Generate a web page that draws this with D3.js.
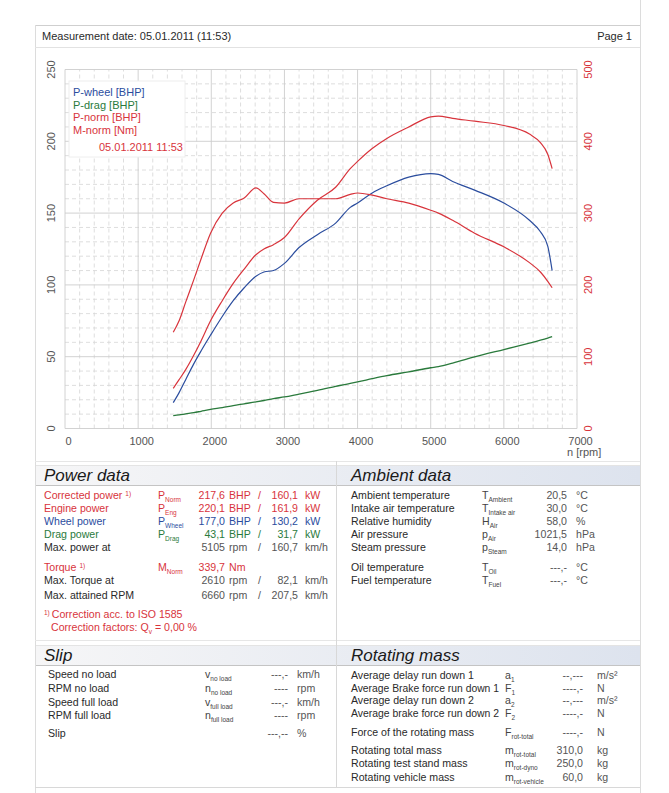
<!DOCTYPE html>
<html><head><meta charset="utf-8">
<script src="https://cdn.jsdelivr.net/npm/d3@7"></script>
<style>
html,body{margin:0;padding:0;background:#fff;}
svg{display:block;font-family:"Liberation Sans",Arial,sans-serif;}
</style></head>
<body><svg id="c" width="669" height="793"></svg>
<script>
// ---- data ----
const rpm    = [1480,1560,1650,1760,1860,1990,2150,2300,2450,2610,2720,2850,3000,3200,3450,3700,3900,4000,4200,4400,4700,5000,5105,5300,5600,6000,6350,6500,6600,6660];
const pWheel = [18,25,34,45,54,65,78,89,98,106,109,110,115,126,135,143,154,157,164,169,175,177.5,177,172,166,157,145,137,127,110];
const pDrag  = [9,9.5,10.2,11,12,13.3,14.6,16,17.2,18.5,19.5,20.8,22,24,26.5,29.3,31.5,32.5,34.7,36.8,39.5,42.3,43.1,45.5,49.8,55,59.5,61.5,63,64];
const pNorm  = [28,34,41,51,61,75,89,101,111,121,125,128,133,146,159,168,181,186,195,202,210,217,217.6,216,214,211,205,199,191,181];
const mNorm  = [134,150,176,207,236,272,300,314,321,335,327,315,314,320,320,320,326,328,325,320,314,304,300,290,272,253,231,218,205,196];
const xTicks = [0,1000,2000,3000,4000,5000,6000,7000];
const leftTicks = [0,50,100,150,200,250];
const rightTicks = [0,100,200,300,400,500];
const legendItems = ["P-wheel [BHP]","P-drag [BHP]","P-norm [BHP]","M-norm [Nm]"];

const BLUE="#2b4d9e", GREEN="#2a7a3c", RED="#d8343c", TXT="#2a2a2a", AX="#555";
const FS=10.6;
const svg = d3.select("#c");
const defs = svg.append("defs");
const grad = defs.append("linearGradient").attr("id","band");
grad.append("stop").attr("offset","0%").attr("stop-color","#f6f6f7");
grad.append("stop").attr("offset","100%").attr("stop-color","#dde3ee");

// ---- page frame ----
const LN="#cfcfcf";
svg.append("line").attr("x1",35).attr("x2",640).attr("y1",25.5).attr("y2",25.5).attr("stroke",LN);
svg.append("line").attr("x1",640.5).attr("x2",640.5).attr("y1",0).attr("y2",793).attr("stroke","#dcdcdc");
svg.append("line").attr("x1",35.5).attr("x2",35.5).attr("y1",25).attr("y2",793).attr("stroke","#dcdcdc");
svg.append("line").attr("x1",35).attr("x2",640).attr("y1",47.5).attr("y2",47.5).attr("stroke","#e2e2e2");
svg.append("text").attr("x",42).attr("y",40).attr("font-size",11).attr("fill",TXT).text("Measurement date: 05.01.2011 (11:53)");
svg.append("text").attr("x",632).attr("y",40).attr("font-size",11).attr("fill",TXT).attr("text-anchor","end").text("Page 1");

// ---- chart ----
const x = d3.scaleLinear().domain([0,7000]).range([65,577]);
const yL = d3.scaleLinear().domain([0,250]).range([428.5,69.5]);
const yR = d3.scaleLinear().domain([0,500]).range([428.5,69.5]);
const g = svg.append("g");
d3.range(0,7001,200).filter(v=>v%1000!==0).forEach(v=>{
  g.append("line").attr("x1",x(v)).attr("x2",x(v)).attr("y1",yL(0)).attr("y2",yL(250))
   .attr("stroke","#d6d6d6").attr("stroke-dasharray","4,3").attr("stroke-width",0.8);
});
d3.range(0,251,10).filter(v=>v%50!==0).forEach(v=>{
  g.append("line").attr("x1",x(0)).attr("x2",x(7000)).attr("y1",yL(v)).attr("y2",yL(v))
   .attr("stroke","#d6d6d6").attr("stroke-dasharray","4,3").attr("stroke-width",0.8);
});
xTicks.forEach(v=>g.append("line").attr("x1",x(v)).attr("x2",x(v)).attr("y1",yL(0)).attr("y2",yL(250)).attr("stroke","#cdcdcd").attr("stroke-width",0.9));
leftTicks.forEach(v=>g.append("line").attr("x1",x(0)).attr("x2",x(7000)).attr("y1",yL(v)).attr("y2",yL(v)).attr("stroke","#cdcdcd").attr("stroke-width",0.9));

const xAxis = svg.append("g").attr("transform","translate(3,"+(yL(0)+4)+")")
  .call(d3.axisBottom(x).tickValues(xTicks).tickSize(0).tickFormat(d3.format("d")));
xAxis.select(".domain").remove();
xAxis.selectAll("text").attr("font-size",11).attr("fill",AX).attr("font-family","Liberation Sans, Arial").attr("dy","0.9em");
svg.append("text").attr("x",567).attr("y",456).attr("font-size",11).attr("fill",AX).text("n [rpm]");

const yAxisL = svg.append("g").attr("transform","translate(56,0)")
  .call(d3.axisLeft(yL).tickValues(leftTicks).tickSize(0));
yAxisL.select(".domain").remove();
yAxisL.selectAll(".tick").attr("transform",null);
yAxisL.selectAll("text").attr("font-size",11).attr("fill",AX).attr("font-family","Liberation Sans, Arial")
  .attr("text-anchor","middle").attr("dy",0)
  .attr("transform","rotate(-90)").attr("x",function(d){return -yL(d);}).attr("y",-1);

const yAxisR = svg.append("g").attr("transform","translate(592,0)")
  .call(d3.axisRight(yR).tickValues(rightTicks).tickSize(0));
yAxisR.select(".domain").remove();
yAxisR.selectAll(".tick").attr("transform",null);
yAxisR.selectAll("text").attr("font-size",11).attr("fill",RED).attr("font-family","Liberation Sans, Arial")
  .attr("text-anchor","middle").attr("dy",0).attr("transform","rotate(-90)")
  .attr("x",function(d){return -yR(d);}).attr("y",0);

// legend
svg.append("rect").attr("x",69).attr("y",81).attr("width",116).attr("height",76).attr("fill","#fff").attr("stroke","#eeeeee");
const legCols=[BLUE,GREEN,RED,RED];
legendItems.forEach((t,i)=>svg.append("text").attr("x",73).attr("y",96+i*12.7).attr("font-size",11).attr("fill",legCols[i]).text(t));
svg.append("text").attr("x",183).attr("y",151).attr("font-size",11).attr("fill",RED).attr("text-anchor","end").text("05.01.2011 11:53");

// curves
const mk = (arr, ys) => d3.line().x((d,i)=>x(rpm[i])).y(d=>ys(d)).curve(d3.curveMonotoneX)(arr);
svg.append("path").attr("d",mk(pDrag,yL)).attr("fill","none").attr("stroke",GREEN).attr("stroke-width",1.3);
svg.append("path").attr("d",mk(pWheel,yL)).attr("fill","none").attr("stroke",BLUE).attr("stroke-width",1.2);
svg.append("path").attr("d",mk(pNorm,yL)).attr("fill","none").attr("stroke",RED).attr("stroke-width",1.2);
svg.append("path").attr("d",mk(mNorm,yR)).attr("fill","none").attr("stroke",RED).attr("stroke-width",1.2);

// ---- sections ----
function band(y){
  svg.append("rect").attr("x",36).attr("y",y).attr("width",604).attr("height",20).attr("fill","url(#band)");
  svg.append("line").attr("x1",36).attr("x2",640).attr("y1",y+0.5).attr("y2",y+0.5).attr("stroke","#e4e4e4");
  svg.append("line").attr("x1",36).attr("x2",640).attr("y1",y+20.5).attr("y2",y+20.5).attr("stroke","#c4c4c4");
}
band(465); band(645);
svg.append("line").attr("x1",35).attr("x2",640).attr("y1",461.5).attr("y2",461.5).attr("stroke","#e6e6e6");
svg.append("line").attr("x1",35).attr("x2",640).attr("y1",640.5).attr("y2",640.5).attr("stroke","#e6e6e6");
svg.append("line").attr("x1",35).attr("x2",640).attr("y1",787.5).attr("y2",787.5).attr("stroke","#d8d8d8");
svg.append("line").attr("x1",336.5).attr("x2",336.5).attr("y1",461).attr("y2",788).attr("stroke","#d8d8d8");

function title(xp,yp,t){svg.append("text").attr("x",xp).attr("y",yp).attr("font-size",17).attr("font-style","italic").attr("fill","#1a1a1a").text(t);}
title(44,481,"Power data"); title(351,481,"Ambient data"); title(44,661,"Slip"); title(351,661,"Rotating mass");

function txt(xp,yp,t,col,anchor,maxW){
  const e=svg.append("text").attr("x",xp).attr("y",yp).attr("font-size",FS).attr("fill",col||TXT).attr("text-anchor",anchor||"start").text(t);
  if(maxW && e.node().getComputedTextLength()>maxW) e.attr("textLength",maxW).attr("lengthAdjust","spacingAndGlyphs");
  return e;
}
function sym(xp,yp,main,sub,col){
  const t=svg.append("text").attr("x",xp).attr("y",yp).attr("font-size",FS).attr("fill",col||TXT);
  t.append("tspan").text(main);
  t.append("tspan").attr("font-size",6.5).attr("dy",3).text(sub);
}
function sup(xp,yp,main,s,col){
  const t=svg.append("text").attr("x",xp).attr("y",yp).attr("font-size",FS).attr("fill",col);
  t.append("tspan").text(main);
  t.append("tspan").attr("font-size",6.5).attr("dy",-3).attr("dx",3).text(s);
}

// power data
const powerRows = [
 {l:"Corrected power",s:["P","Norm"],v1:"217,6",u1:"BHP",v2:"160,1",u2:"kW",c:RED,sup:true,y:499},
 {l:"Engine power",s:["P","Eng"],v1:"220,1",u1:"BHP",v2:"161,9",u2:"kW",c:RED,y:512},
 {l:"Wheel power",s:["P","Wheel"],v1:"177,0",u1:"BHP",v2:"130,2",u2:"kW",c:BLUE,y:525},
 {l:"Drag power",s:["P","Drag"],v1:"43,1",u1:"BHP",v2:"31,7",u2:"kW",c:GREEN,y:538},
 {l:"Max. power at",v1:"5105",u1:"rpm",v2:"160,7",u2:"km/h",c:TXT,vc:true,y:551},
];
powerRows.forEach(r=>{
  if(r.sup) sup(44,r.y,r.l,"1)",r.c); else txt(44,r.y,r.l,r.c);
  if(r.s) sym(158,r.y,r.s[0],r.s[1],r.c);
  const vc = r.vc? "#555": r.c;
  txt(225,r.y,r.v1,vc,"end"); txt(229,r.y,r.u1,vc); txt(258,r.y,"/",vc);
  txt(298,r.y,r.v2,vc,"end"); txt(305,r.y,r.u2,vc);
});
sup(44,571,"Torque","1)",RED); sym(158,571,"M","Norm",RED); txt(225,571,"339,7",RED,"end"); txt(229,571,"Nm",RED);
txt(44,584,"Max. Torque at"); txt(225,584,"2610","#555","end"); txt(229,584,"rpm","#555"); txt(258,584,"/","#555"); txt(298,584,"82,1","#555","end"); txt(305,584,"km/h","#555");
txt(44,599,"Max. attained RPM"); txt(225,599,"6660","#555","end"); txt(229,599,"rpm","#555"); txt(258,599,"/","#555"); txt(298,599,"207,5","#555","end"); txt(305,599,"km/h","#555");
const fn=svg.append("text").attr("x",44).attr("y",618).attr("font-size",FS).attr("fill",RED);
fn.append("tspan").attr("font-size",6.5).attr("dy",-3).text("1)");
fn.append("tspan").attr("dy",3).attr("dx",2).text("Correction acc. to ISO 1585");
const cf=svg.append("text").attr("x",51).attr("y",631).attr("font-size",FS).attr("fill",RED);
cf.append("tspan").text("Correction factors: Q");
cf.append("tspan").attr("font-size",6.5).attr("dy",3).text("v");
cf.append("tspan").attr("dy",-3).text(" =   0,00 %");

// ambient
const amb=[["Ambient temperature","T","Ambient","20,5","°C",499],["Intake air temperature","T","Intake air","30,0","°C",512],
 ["Relative humidity","H","Air","58,0","%",525],["Air pressure","p","Air","1021,5","hPa",538],["Steam pressure","p","Steam","14,0","hPa",551],
 ["Oil temperature","T","Oil","---,-","°C",571],["Fuel temperature","T","Fuel","---,-","°C",584]];
amb.forEach(r=>{txt(351,r[5],r[0]); sym(482,r[5],r[1],r[2],"#444"); txt(567,r[5],r[3],"#555","end"); txt(576,r[5],r[4],"#555");});

// slip
const slip=[["Speed no load","v","no load","---,-","km/h",678],["RPM no load","n","no load","----","rpm",692],
 ["Speed full load","v","full load","---,-","km/h",706],["RPM full load","n","full load","----","rpm",719],["Slip","","","---,--","%",737]];
slip.forEach(r=>{txt(48,r[5],r[0]); if(r[1]) sym(205,r[5],r[1],r[2],"#444"); txt(288,r[5],r[3],"#555","end"); txt(297,r[5],r[4],"#555");});

// rotating mass
const rot=[["Average delay run down 1","a","1","--,---","m/s²",679],["Average Brake force run down 1","F","1","----,-","N",692],
 ["Average delay run down 2","a","2","--,---","m/s²",704],["Average brake force run down 2","F","2","----,-","N",717],
 ["Force of the rotating mass","F","rot-total","----,-","N",736],["Rotating total mass","m","rot-total","310,0","kg",754],
 ["Rotating test stand mass","m","rot-dyno","250,0","kg",767],["Rotating vehicle mass","m","rot-vehicle","60,0","kg",781]];
rot.forEach(r=>{txt(351,r[5],r[0],TXT,"start",148); sym(505,r[5],r[1],r[2],"#444"); txt(583,r[5],r[3],"#555","end"); txt(597,r[5],r[4],"#555");});
</script></body></html>
